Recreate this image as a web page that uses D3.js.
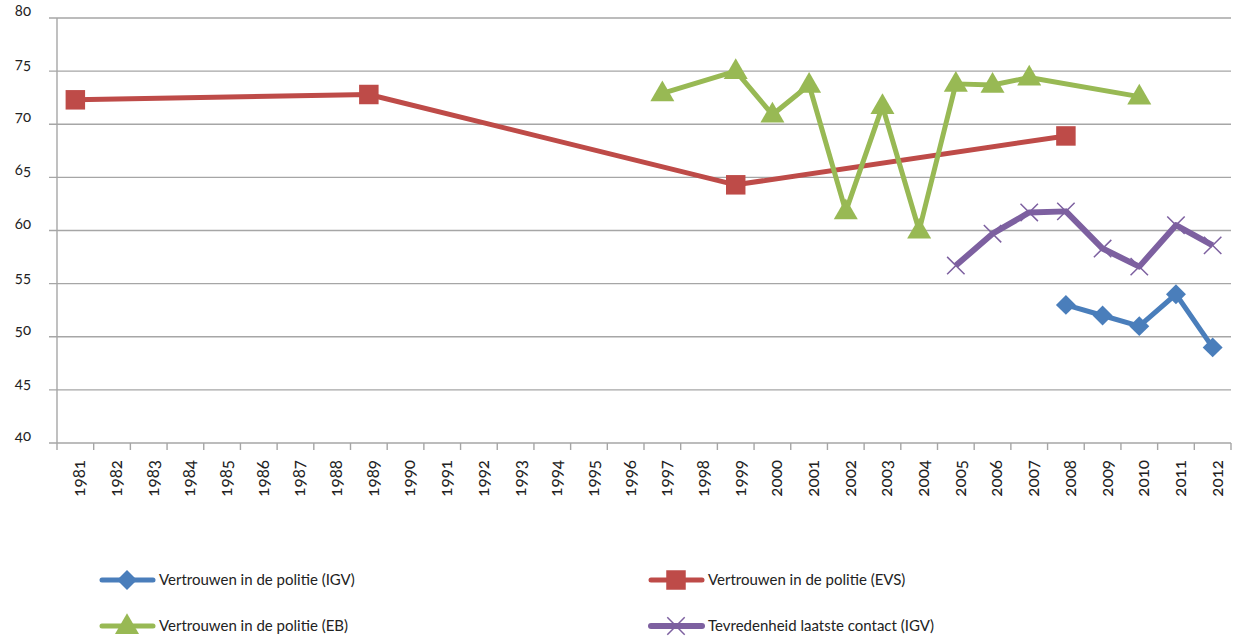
<!DOCTYPE html>
<html lang="nl">
<head>
  <meta charset="UTF-8">
  <title>Vertrouwen in de politie</title>
  <script src="https://d3js.org/d3.v7.min.js"></script>
  <style>
    body {
      margin: 0;
      background: #fff;
      font-family: Lato, "Open Sans", sans-serif;
    }

    svg {
      display: block;
    }

    .tick-label {
      font-size: 15px;
      fill: #222;
      font-variant-numeric: oldstyle-nums;
    }

    .x-label {
      font-size: 17px;
    }

    .legend-label {
      font-size: 15px;
      fill: #222;
    }
  </style>
</head>
<body>
  <svg id="chart"></svg>
  <script>
    const years = [
      "1981", "1982", "1983", "1984", "1985", "1986", "1987", "1988", "1989", "1990",
      "1991", "1992", "1993", "1994", "1995", "1996", "1997", "1998", "1999", "2000",
      "2001", "2002", "2003", "2004", "2005", "2006", "2007", "2008", "2009", "2010",
      "2011", "2012"
    ];
    const yTicks = [40, 45, 50, 55, 60, 65, 70, 75, 80];

    const igvYears = ["2008", "2009", "2010", "2011", "2012"];
    const igvValues = [53, 52, 51, 54, 49];

    const evsYears = ["1981", "1989", "1999", "2008"];
    const evsValues = [72.3, 72.8, 64.3, 68.9];

    const ebYears = ["1997", "1999", "2000", "2001", "2002", "2003", "2004", "2005", "2006", "2007", "2010"];
    const ebValues = [72.9, 75, 70.9, 73.7, 61.8, 71.7, 60, 73.8, 73.7, 74.4, 72.6];

    const contactYears = ["2005", "2006", "2007", "2008", "2009", "2010", "2011", "2012"];
    const contactValues = [56.7, 59.7, 61.7, 61.8, 58.3, 56.6, 60.5, 58.6];

    const series = [
      { name: "Vertrouwen in de politie (IGV)", years: igvYears, values: igvValues, color: "#4A7EBB", marker: "diamond", width: 5 },
      { name: "Vertrouwen in de politie (EVS)", years: evsYears, values: evsValues, color: "#BE4B48", marker: "square", width: 5 },
      { name: "Vertrouwen in de politie (EB)", years: ebYears, values: ebValues, color: "#98B954", marker: "triangle", width: 5 },
      { name: "Tevredenheid laatste contact (IGV)", years: contactYears, values: contactValues, color: "#7D60A0", marker: "cross", width: 6 }
    ];

    const width = 1237;
    const height = 638;
    const margin = { top: 18, right: 6, bottom: 195, left: 57 };
    const gridColor = "#a6a6a6";

    const svg = d3.select("#chart")
      .attr("width", width)
      .attr("height", height);

    const x = d3.scaleBand()
      .domain(years)
      .range([margin.left, width - margin.right])
      .padding(0);

    const y = d3.scaleLinear()
      .domain([40, 80])
      .range([height - margin.bottom, margin.top]);

    const cx = d => x(d) + x.bandwidth() / 2;

    // gridlines
    svg.append("g")
      .selectAll("line")
      .data(yTicks)
      .join("line")
      .attr("x1", margin.left - 8)
      .attr("x2", width - margin.right)
      .attr("y1", d => y(d))
      .attr("y2", d => y(d))
      .attr("stroke", gridColor)
      .attr("stroke-width", 1.4);

    // y axis line
    svg.append("line")
      .attr("x1", margin.left)
      .attr("x2", margin.left)
      .attr("y1", y(80))
      .attr("y2", y(40))
      .attr("stroke", gridColor)
      .attr("stroke-width", 1.4);

    // y tick labels
    svg.append("g")
      .selectAll("text")
      .data(yTicks)
      .join("text")
      .attr("class", "tick-label")
      .attr("x", 31)
      .attr("y", d => y(d) - 2)
      .attr("text-anchor", "end")
      .text(d => d);

    // x boundary ticks
    const bounds = years.map(d => x(d)).concat([width - margin.right]);
    svg.append("g")
      .selectAll("line")
      .data(bounds)
      .join("line")
      .attr("x1", d => d)
      .attr("x2", d => d)
      .attr("y1", y(40))
      .attr("y2", y(40) + 7)
      .attr("stroke", gridColor)
      .attr("stroke-width", 1.4);

    // x labels
    svg.append("g")
      .selectAll("text")
      .data(years)
      .join("text")
      .attr("class", "tick-label x-label")
      .attr("text-anchor", "end")
      .attr("dy", "0.35em")
      .attr("transform", d => `translate(${cx(d) + 4},${y(40) + 17}) rotate(-90)`)
      .text(d => d);

    const symbolFor = {
      diamond: d3.symbol().type(d3.symbolSquare).size(200),
      square: d3.symbol().type(d3.symbolSquare).size(380),
      triangle: d3.symbol().type(d3.symbolTriangle).size(250),
      cross: d3.symbol().type(d3.symbolX).size(200)
    };

    function drawMarker(g, s, px, py) {
      const m = g.append("path")
        .attr("d", symbolFor[s.marker]());
      if (s.marker === "diamond") {
        m.attr("transform", `translate(${px},${py}) rotate(45)`).attr("fill", s.color);
      } else if (s.marker === "triangle") {
        m.attr("transform", `translate(${px},${py + 1})`).attr("fill", s.color);
      } else if (s.marker === "cross") {
        m.attr("transform", `translate(${px},${py})`)
          .attr("fill", "none")
          .attr("stroke", s.color)
          .attr("stroke-width", 1.5);
      } else {
        m.attr("transform", `translate(${px},${py})`).attr("fill", s.color);
      }
    }

    const line = d3.line()
      .x(d => cx(d[0]))
      .y(d => y(d[1]))
      .curve(d3.curveLinear);

    series.forEach(s => {
      const pts = s.years.map((yr, i) => [yr, s.values[i]]);
      const g = svg.append("g");
      g.append("path")
        .datum(pts)
        .attr("d", line)
        .attr("fill", "none")
        .attr("stroke", s.color)
        .attr("stroke-width", s.width)
        .attr("stroke-linejoin", "round");
      pts.forEach(p => drawMarker(g, s, cx(p[0]), y(p[1])));
    });

    // legend
    const legendPos = [
      { x: 100, y: 580 },
      { x: 649, y: 580 },
      { x: 100, y: 626 },
      { x: 649, y: 626 }
    ];

    series.forEach((s, i) => {
      const pos = legendPos[i];
      const g = svg.append("g");
      g.append("line")
        .attr("x1", pos.x + 2)
        .attr("x2", pos.x + 53)
        .attr("y1", pos.y)
        .attr("y2", pos.y)
        .attr("stroke", s.color)
        .attr("stroke-width", s.width)
        .attr("stroke-linecap", "round");
      drawMarker(g, s, pos.x + 27, pos.y);
      g.append("text")
        .attr("class", "legend-label")
        .attr("x", pos.x + 59)
        .attr("y", pos.y)
        .attr("dy", "0.35em")
        .text(s.name);
    });
  </script>
</body>
</html>
